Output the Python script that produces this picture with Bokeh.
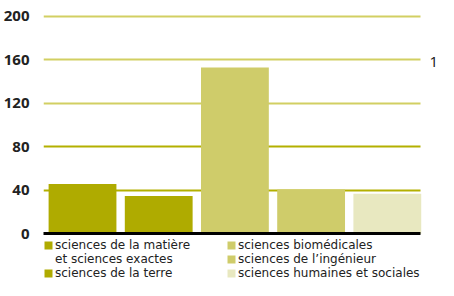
from bokeh.plotting import figure
from bokeh.models import (Range1d, FixedTicker, Grid, Legend, LegendItem, Label)
from bokeh.embed import file_html
from bokeh.resources import INLINE

categories = ["sciences de la matière\net sciences exactes",
              "sciences de la terre",
              "sciences biomédicales",
              "sciences de l’ingénieur",
              "sciences humaines et sociales"]
values = [46, 35, 153, 41, 37]
colors = ["#afab00", "#afab00", "#cfcc6a", "#cfcc6a", "#e8e8c0"]
y_ticks = [0, 40, 80, 120, 160, 200]
dark_grid = [40, 80]
light_grid = [120, 160, 200]
side_text = "1"

LEGEND_FONT = "DejaVu Sans"
TICK_FONT = "Open Sans"

X0, X1 = -0.512, 4.436   # extent of the chart body (grid bounds)

p = figure(frame_width=397, frame_height=280, output_backend="svg",
           toolbar_location=None,
           x_range=Range1d(X0, 4.698), y_range=Range1d(-42.76, 214.71),
           min_border_left=37, min_border_right=0, min_border_top=0,
           min_border_bottom=0)
p.outline_line_color = None
p.background_fill_color = "white"
p.border_fill_color = "white"
p.xgrid.visible = False
p.ygrid.visible = False
p.xaxis.visible = False

renderers = []
for i in range(len(categories)):
    r = p.vbar(x=[i], top=[values[i]], bottom=0, width=0.89,
               fill_color=colors[i], line_color=None)
    renderers.append(r)

p.add_layout(Grid(dimension=1, ticker=FixedTicker(ticks=dark_grid),
                  cross_bounds=(X0, X1), grid_line_color="#b3b000",
                  grid_line_width=2), "center")
p.add_layout(Grid(dimension=1, ticker=FixedTicker(ticks=light_grid),
                  cross_bounds=(X0, X1), grid_line_color="#d2cf62",
                  grid_line_width=2), "center")
p.add_layout(Grid(dimension=1, ticker=FixedTicker(ticks=[y_ticks[0]]),
                  cross_bounds=(X0, X1), grid_line_color="black",
                  grid_line_width=3, level="overlay"), "center")

p.yaxis.ticker = FixedTicker(ticks=y_ticks)
p.yaxis.axis_line_color = None
p.yaxis.major_tick_line_color = None
p.yaxis.minor_tick_line_color = None
p.yaxis.major_label_standoff = 8
p.yaxis.major_label_text_font = TICK_FONT
p.yaxis.major_label_text_font_size = "15px"
p.yaxis.major_label_text_font_style = "bold"
p.yaxis.major_label_text_color = "#222222"


def make_legend(idx, x):
    items = []
    for i in idx:
        lines = categories[i].split("\n")
        items.append(LegendItem(label=lines[0], renderers=[renderers[i]]))
        for extra in lines[1:]:
            items.append(LegendItem(label=extra, renderers=[]))
    lg = Legend(items=items, location=(x, 0), orientation="vertical",
                padding=0, margin=0, spacing=0, border_line_color=None,
                background_fill_alpha=0, glyph_width=10, glyph_height=10,
                label_standoff=2, label_height=14,
                label_text_font=LEGEND_FONT, label_text_font_size="12px",
                label_text_color="#222222")
    p.add_layout(lg, "center")


make_legend([0, 1], 0)
make_legend([2, 3, 4], 183)

p.add_layout(Label(x=386, y=219, x_units="screen", y_units="screen",
                   text=side_text, text_font=TICK_FONT, text_font_size="15px",
                   text_baseline="middle", text_color="#111111"))

open("out.html", "w").write(file_html(p, INLINE))
